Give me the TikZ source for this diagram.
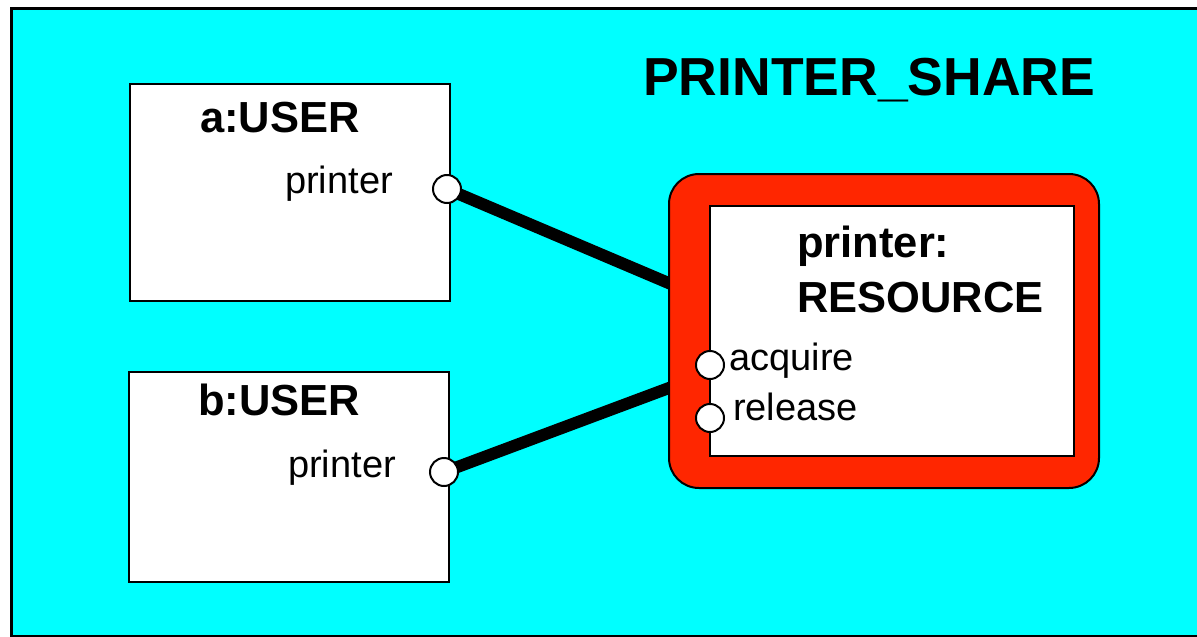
\documentclass[tikz,border=0pt]{standalone}
\usepackage{fontspec}
\setmainfont{Liberation Sans}
\definecolor{bgcyan}{HTML}{00FFFF}
\definecolor{resred}{HTML}{FF2600}
\begin{document}
\begin{tikzpicture}[x=1pt,y=-1pt,
  box/.style={draw=black,line width=2.5pt,fill=white,inner sep=0pt},
  port/.style={circle,draw=black,line width=2pt,fill=white,minimum size=28pt,inner sep=0pt},
  wire/.style={line width=12pt,black},
  btxt/.style={inner sep=0pt,font=\fontsize{43.5}{43.5}\selectfont\bfseries},
  ntxt/.style={inner sep=0pt,font=\fontsize{38}{38}\selectfont},
  ttxt/.style={inner sep=0pt,font=\fontsize{53.5}{53.5}\selectfont\bfseries}]
\useasboundingbox (0,0) rectangle (1197,637);
% frame
\draw[fill=bgcyan,line width=3pt] (11,8) rectangle (1215,636);
\node[ttxt,anchor=base west] (title) at (643,95) {PRINTER\_SHARE};
% user boxes
\node[box,minimum width=320pt,minimum height=217pt] (a) at (290,192.5) {};
\node[box,minimum width=320pt,minimum height=210pt] (b) at (289,477) {};
\node[btxt,anchor=base] (alab) at (280,132) {a:USER};
\node[ntxt,anchor=base west] (aprt) at (285,193) {printer};
\node[btxt,anchor=base] (blab) at (279,415) {b:USER};
\node[ntxt,anchor=base west] (bprt) at (288,477) {printer};
% port centres and connector ends
\coordinate (pa) at (447,189);
\coordinate (pb) at (444,472);
\coordinate (ea) at (685,290);
\coordinate (eb) at (685,382);
\draw[wire] (pa) -- (ea);
\draw[wire] (pb) -- (eb);
% resource
\node[draw=black,line width=2pt,fill=resred,rounded corners=30pt,minimum width=430pt,minimum height=314pt,inner sep=0pt] (red) at (884,331) {};
\node[box,minimum width=364pt,minimum height=250pt] (res) at (892,331) {};
\node[btxt,anchor=base west] (rl1) at (797,257) {printer:};
\node[btxt,anchor=base west] (rl2) at (797,312) {RESOURCE};
\node[ntxt,anchor=base west] (acq) at (729,370) {acquire};
\node[ntxt,anchor=base west] (rel) at (733,420) {release};
% ports
\node[port] (pac) at (pa) {};
\node[port] (pbc) at (pb) {};
\node[port] (pacq) at (710,365) {};
\node[port] (prel) at (710,418) {};
\end{tikzpicture}
\end{document}
